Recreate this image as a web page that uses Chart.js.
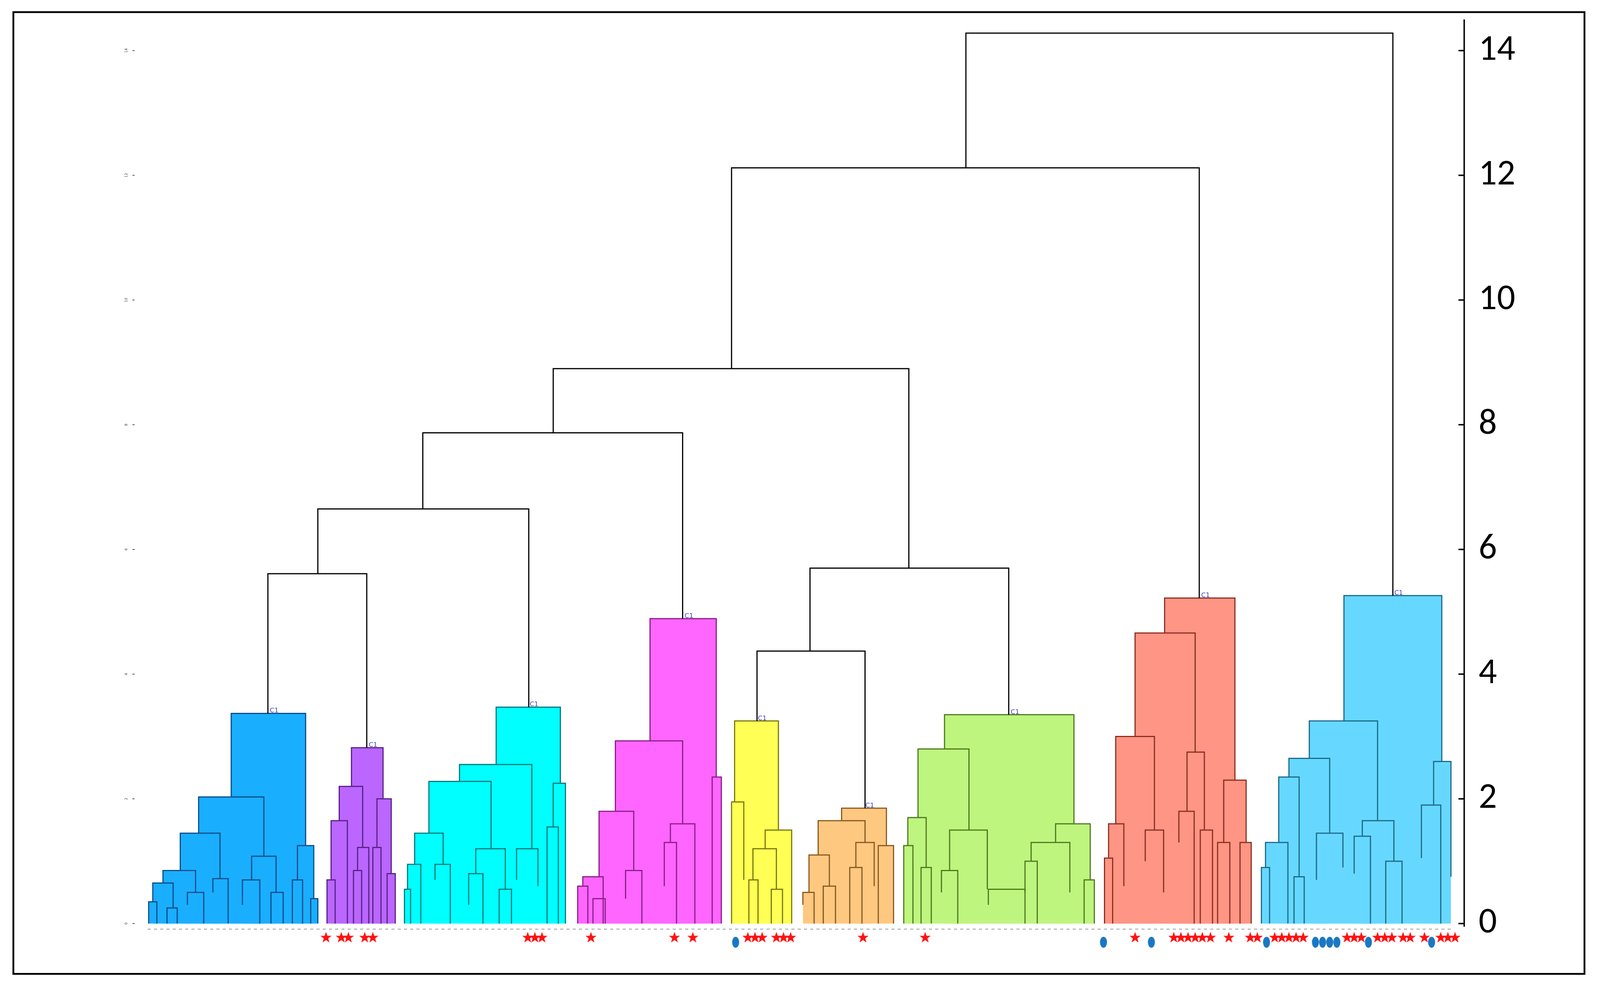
<!DOCTYPE html>
<html>
<head>
<meta charset="utf-8">
<script src="https://cdn.jsdelivr.net/npm/chart.js@4.4.1/dist/chart.umd.min.js"></script>
<style>
  html, body { margin: 0; padding: 0; background: #fff; overflow: hidden; }
  #wrap { position: relative; width: 100vw; height: 100vh; }
</style>
</head>
<body>
<div id="wrap"><canvas id="dendro"></canvas></div>
<script>
'use strict'

// links: [xLeft, xRight, height, leftChildHeight, rightChildHeight]
const blueLinks = [
  [225, 298, 3.37, 2.03, 1.25], [193, 257, 2.03, 1.45, 1.08], [175, 214, 1.45, 0.85, 0.72],
  [158, 190, 0.85, 0.65, 0.5], [148, 168, 0.65, 0.35, 0.25], [182, 198, 0.5, 0.3, 0],
  [207, 222, 0.72, 0.5, 0], [245, 269, 1.08, 0.7, 0.5], [236, 253, 0.7, 0.3, 0],
  [264, 276, 0.5, 0, 0], [290, 306, 1.25, 0.7, 0.4], [285, 295, 0.7, 0, 0], [303, 310, 0.4, 0, 0],
  [144, 152, 0.35, 0, 0], [162, 172, 0.25, 0, 0]
]
const purpleLinks = [
  [343, 374, 2.82, 2.2, 2.0], [331, 354, 2.2, 1.65, 1.22], [323, 339, 1.65, 0.7, 0],
  [319, 327, 0.7, 0, 0], [349, 360, 1.22, 0.85, 0], [368, 382, 2.0, 1.22, 0.8],
  [364, 372, 1.22, 0, 0], [378, 386, 0.8, 0, 0], [345, 353, 0.85, 0, 0]
]
const cyanLinks = [
  [485, 548, 3.47, 2.55, 2.25], [449, 520, 2.55, 2.28, 1.2], [419, 480, 2.28, 1.45, 1.2],
  [405, 433, 1.45, 0.95, 0.95], [398, 411, 0.95, 0.55, 0], [425, 440, 0.95, 0.7, 0],
  [465, 494, 1.2, 0.8, 0.55], [505, 526, 1.2, 0.7, 0.6], [541, 553, 2.25, 1.55, 0],
  [535, 546, 1.55, 0, 0], [395, 401, 0.55, 0, 0], [458, 472, 0.8, 0.3, 0], [488, 500, 0.55, 0, 0]
]
const magentaLinks = [
  [636, 701, 4.89, 2.93, 2.35], [602, 668, 2.93, 1.8, 1.6], [586, 620, 1.8, 0.75, 0.85],
  [570, 590, 0.75, 0.6, 0], [565, 575, 0.6, 0, 0], [612, 628, 0.85, 0.4, 0],
  [656, 680, 1.6, 1.3, 0], [650, 662, 1.3, 0.6, 0], [697, 706, 2.35, 0, 0], [580, 592, 0.4, 0, 0]
]
const yellowLinks = [
  [719, 762, 3.25, 1.95, 1.5], [716, 728, 1.95, 0, 0.7], [749, 775, 1.5, 1.2, 0],
  [737, 760, 1.2, 0.7, 0.55], [733, 742, 0.7, 0, 0], [755, 766, 0.55, 0, 0]
]
const orangeLinks = [
  [824, 868, 1.85, 1.65, 1.25], [801, 847, 1.65, 1.1, 1.3], [792, 812, 1.1, 0.5, 0.6],
  [786, 797, 0.5, 0.3, 0], [838, 856, 1.3, 0.9, 0.6], [860, 875, 1.25, 0, 0],
  [806, 818, 0.6, 0, 0], [832, 844, 0.9, 0, 0]
]
const greenLinks = [
  [925, 1052, 3.35, 2.8, 1.6], [899, 949, 2.8, 1.7, 1.5], [889, 907, 1.7, 1.25, 0.9],
  [885, 894, 1.25, 0, 0], [930, 967, 1.5, 0.85, 0.55], [922, 938, 0.85, 0.5, 0],
  [1034, 1068, 1.6, 1.3, 0.7], [1010, 1048, 1.3, 1.0, 0.5], [968, 1004, 0.55, 0.3, 0.5],
  [1062, 1072, 0.7, 0, 0], [902, 912, 0.9, 0, 0], [1004, 1016, 1.0, 0, 0]
]
const salmonLinks = [
  [1141, 1210, 5.22, 4.66, 2.3], [1112, 1171, 4.66, 3.0, 2.75], [1093, 1131, 3.0, 1.6, 1.5],
  [1086, 1101, 1.6, 1.05, 0.6], [1122, 1140, 1.5, 1.0, 0.5], [1163, 1180, 2.75, 1.8, 1.5],
  [1155, 1170, 1.8, 1.3, 0], [1176, 1188, 1.5, 0, 0], [1199, 1221, 2.3, 1.3, 1.3],
  [1082, 1090, 1.05, 0, 0], [1193, 1205, 1.3, 0, 0], [1215, 1226, 1.3, 0, 0]
]
const lightBlueLinks = [
  [1317, 1413, 5.26, 3.25, 2.6], [1283, 1350, 3.25, 2.65, 1.65], [1263, 1303, 2.65, 2.35, 1.45],
  [1253, 1273, 2.35, 1.3, 0.75], [1240, 1262, 1.3, 0.9, 0], [1290, 1316, 1.45, 0.7, 0.9],
  [1335, 1366, 1.65, 1.4, 1.0], [1405, 1422, 2.6, 1.9, 0.75], [1393, 1412, 1.9, 1.05, 0],
  [1236, 1244, 0.9, 0, 0], [1268, 1278, 0.75, 0, 0], [1327, 1343, 1.4, 0.8, 0], [1358, 1374, 1.0, 0, 0]
]
const topLinks = [
  [946, 1365, 14.28, 12.12, 5.26], [716, 1175, 12.12, 8.9, 5.22], [541, 890, 8.9, 7.87, 5.70],
  [413, 668, 7.87, 6.65, 4.89], [310, 517, 6.65, 5.61, 3.47], [261, 358, 5.61, 3.37, 2.82],
  [793, 988, 5.70, 4.37, 3.35], [741, 847, 4.37, 3.25, 1.85]
]

const clusterLinks = [blueLinks, purpleLinks, cyanLinks, magentaLinks, yellowLinks,
  orangeLinks, greenLinks, salmonLinks, lightBlueLinks]
const clusterFill = ['#1AAEFF', '#BA66FF', '#00FFFF', '#FF66FF', '#FFFF55',
  '#FFC880', '#BEF57E', '#FF9584', '#66D8FF']
const clusterLine = ['#0B4F8A', '#5A2288', '#0A7A7A', '#8A1F8A', '#7A7A10',
  '#8A5A20', '#4E7A20', '#8A3022', '#1E6A8A']

const starX = [318, 333, 340, 356, 364, 516, 523, 530, 578, 660, 678, 732, 739, 746, 760, 767, 774,
  845, 906, 1112, 1150, 1157, 1164, 1171, 1178, 1186, 1204, 1225, 1232, 1249, 1256, 1263, 1270, 1277,
  1320, 1327, 1334, 1350, 1357, 1364, 1375, 1382, 1396, 1412, 1419, 1426]
const dotX = [720, 1081, 1128, 1241, 1289, 1296, 1303, 1310, 1341, 1403]
const yTicks = [0, 2, 4, 6, 8, 10, 12, 14]

const REF_W = 4430

function uPoints(l) {
  return [{x: l[0], y: l[3]}, {x: l[0], y: l[2]}, {x: l[1], y: l[2]}, {x: l[1], y: l[4]}]
}

function makeStar() {
  const c = document.createElement('canvas')
  c.width = 30; c.height = 30
  const g = c.getContext('2d')
  g.fillStyle = '#FF1010'
  g.beginPath()
  for (let i = 0; i < 10; i++) {
    const r = i % 2 ? 6 : 15
    const a = -Math.PI / 2 + i * Math.PI / 5
    g.lineTo(15 + r * Math.cos(a), 16 + r * Math.sin(a))
  }
  g.closePath(); g.fill()
  return c
}
function makeDot() {
  const c = document.createElement('canvas')
  c.width = 22; c.height = 32
  const g = c.getContext('2d')
  g.fillStyle = '#1A78C2'
  g.beginPath(); g.ellipse(11, 16, 9, 14, 0, 0, Math.PI * 2); g.fill()
  return c
}

// Chart.js paints dataset 0 last (on top), so marks go first and fills last
const datasets = []
datasets.push({data: starX.map(x => ({x, y: -0.22})), pointStyle: makeStar(), showLine: false})
datasets.push({data: dotX.map(x => ({x, y: -0.3})), pointStyle: makeDot(), showLine: false})
datasets.push({
  data: [{x: 143, y: -0.09}, {x: 1425, y: -0.09}], showLine: true, pointRadius: 0,
  borderColor: '#999', borderWidth: 2, borderDash: [8, 8], fill: false
})
topLinks.forEach(l => datasets.push({
  data: uPoints(l), showLine: true, pointRadius: 0, borderColor: '#000', borderWidth: 3, fill: false
}))
clusterLinks.forEach((links, ci) => {
  links.forEach(l => datasets.push({
    data: uPoints(l), showLine: true, pointRadius: 0,
    borderColor: clusterLine[ci], borderWidth: 3, fill: false
  }))
})
clusterLinks.forEach((links, ci) => {
  links.forEach(l => datasets.push({
    data: uPoints(l), showLine: true, pointRadius: 0, borderWidth: 0,
    borderColor: 'rgba(0,0,0,0)', backgroundColor: clusterFill[ci], fill: 'origin'
  }))
})

const decor = {
  id: 'decor',
  afterDraw(chart) {
    const {ctx, scales: {x, y}} = chart
    const k = chart.width / REF_W
    const ax = x.getPixelForValue(1435)
    ctx.save()
    ctx.strokeStyle = '#000'; ctx.lineWidth = 4 * k
    ctx.beginPath()
    ctx.moveTo(ax, y.getPixelForValue(-0.05))
    ctx.lineTo(ax, y.getPixelForValue(14.5))
    ctx.stroke()
    ctx.fillStyle = '#000'
    ctx.font = (100 * k) + 'px Carlito, Calibri, "Open Sans", "Liberation Sans"'
    ctx.textAlign = 'left'; ctx.textBaseline = 'middle'
    yTicks.forEach(t => {
      const py = y.getPixelForValue(t)
      ctx.beginPath(); ctx.moveTo(ax - 16 * k, py); ctx.lineTo(ax, py); ctx.stroke()
      ctx.fillText(String(t), ax + 40 * k, py)
    })
    // tiny left scale
    ctx.fillStyle = '#444'; ctx.font = (10 * k) + 'px "DejaVu Sans"'
    ctx.textAlign = 'center'
    yTicks.forEach(t => {
      ctx.save()
      ctx.translate(x.getPixelForValue(122), y.getPixelForValue(t))
      ctx.rotate(-Math.PI / 2)
      ctx.fillText(String(t), 0, 0)
      ctx.restore()
      ctx.fillRect(x.getPixelForValue(128), y.getPixelForValue(t) - k, 6 * k, 2 * k)
    })
    // cluster labels
    ctx.fillStyle = '#3A3ACC'; ctx.font = (18 * k) + 'px "DejaVu Sans"'
    ctx.textAlign = 'left'; ctx.textBaseline = 'bottom'
    clusterLinks.forEach(links => {
      const l = links[0]
      ctx.fillText('C1', x.getPixelForValue((l[0] + l[1]) / 2) + 4 * k, y.getPixelForValue(l[2]) + 2 * k)
    })
    // frame
    ctx.strokeStyle = '#000'; ctx.lineWidth = 5 * k
    ctx.strokeRect(37 * k, chart.height * 31 / 2523, 4350 * k, chart.height * 2461 / 2523)
    ctx.restore()
  }
}

new Chart(document.getElementById('dendro'), {
  type: 'scatter',
  data: {datasets},
  options: {
    responsive: true, maintainAspectRatio: false, animation: false,
    layout: {padding: c => ({left: 0, top: 0, bottom: 0, right: c.chart.width * 376 / REF_W})},
    plugins: {legend: {display: false}, tooltip: {enabled: false}},
    scales: {
      x: {type: 'linear', min: 0, max: 1435, display: false},
      y: {min: -0.97, max: 14.78, display: false}
    }
  },
  plugins: [decor]
})
</script>
</body>
</html>
